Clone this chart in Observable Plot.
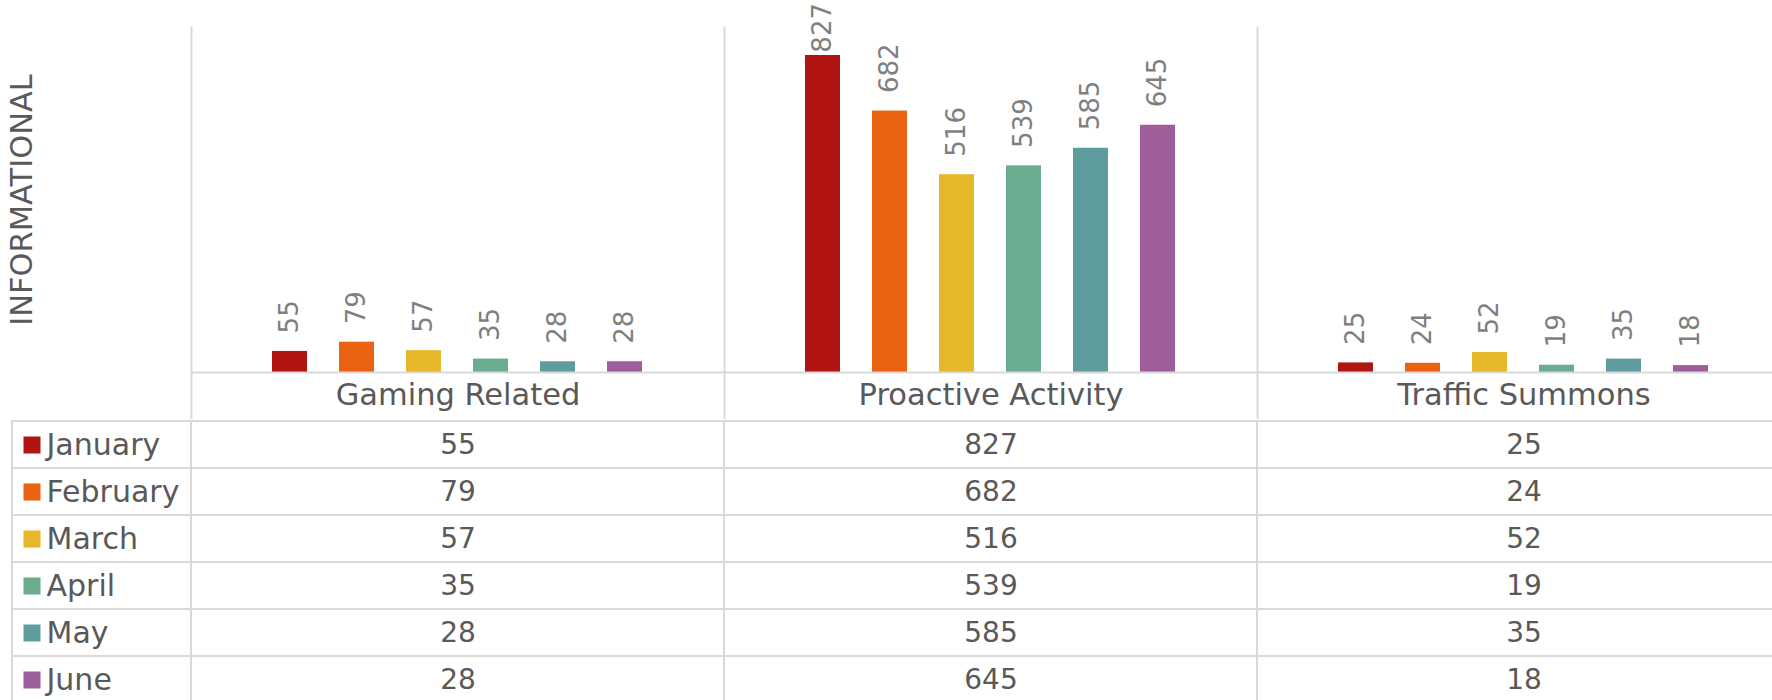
<!DOCTYPE html>
<html>
<head>
<meta charset="utf-8">
<script src="https://cdn.jsdelivr.net/npm/d3@7"></script>
<script src="https://cdn.jsdelivr.net/npm/@observablehq/plot@0.6"></script>
<style>
  html, body { margin: 0; padding: 0; background: #fff; overflow: hidden; }
  #chart { width: 1790px; font-family: "DejaVu Sans", sans-serif; }
  #chart svg { display: block; }
</style>
</head>
<body>
<div id="chart"></div>
<script>
// ---- data ----
const categories = ["Gaming Related", "Proactive Activity", "Traffic Summons"];
const months = ["January", "February", "March", "April", "May", "June"];
const gamingRelated = [55, 79, 57, 35, 28, 28];
const proactiveActivity = [827, 682, 516, 539, 585, 645];
const trafficSummons = [25, 24, 52, 19, 35, 18];
const monthColors = ["#B01513", "#EA6312", "#E6B729", "#6AAC90", "#5F9C9D", "#9E5E9B"];
const axisTitle = "INFORMATIONAL";
const yMax = 900;

const series = [gamingRelated, proactiveActivity, trafficSummons];
const rows = [];
categories.forEach((cat, ci) => months.forEach((month, mi) => rows.push({cat, month, value: series[ci][mi]})));

const gridColor = "#d9d9d9";
const textColor = "#595959";
const labelColor = "#7f7f7f";
const font = "'DejaVu Sans', sans-serif";
// Excel keeps outside-end labels inside the plot area: clamp label anchor
const labelCeil = yMax * 0.875;

const chartPlot = Plot.plot({
  width: 1790,
  height: 419,
  marginTop: 27,
  marginBottom: 0,
  marginLeft: 190,
  marginRight: 0,
  style: {fontFamily: font, background: "transparent"},
  fx: {domain: categories, padding: 0, axis: null},
  x: {domain: months, paddingInner: 0.475, paddingOuter: 1.16, axis: null},
  y: {domain: [0, yMax], range: [372, 27], axis: null},
  color: {domain: months, range: monthColors},
  marks: [
    Plot.barY(rows, {fx: "cat", x: "month", y: "value", fill: "month", inset: 0}),
    Plot.ruleY([0], {stroke: gridColor, strokeWidth: 2}),
    Plot.frame({anchor: "left", stroke: gridColor, strokeWidth: 2}),
    Plot.text(rows, {
      fx: "cat", x: "month", y: d => Math.min(d.value, labelCeil), text: d => String(d.value),
      rotate: -90, textAnchor: "start", lineAnchor: "middle", dy: -18, fontSize: 26, fill: labelColor
    }),
    Plot.text(categories, {
      fx: d => d, text: d => d, frameAnchor: "bottom", lineAnchor: "middle", textAnchor: "middle",
      dy: -24.5, fontSize: 30.5, fill: textColor
    }),
    Plot.text([axisTitle], {
      fx: () => categories[0], y: () => yMax / 2, text: d => d, frameAnchor: "left",
      textAnchor: "middle", lineAnchor: "middle", rotate: -90,
      dx: -169.5, fontSize: 30.5, fill: textColor
    })
  ]
});

const tablePlot = Plot.plot({
  width: 1790,
  height: 284,
  marginTop: 1,
  marginBottom: 0,
  marginLeft: 190,
  marginRight: 0,
  style: {fontFamily: font, background: "transparent"},
  x: {domain: categories, padding: 0, axis: null},
  y: {domain: months, padding: 0, axis: null},
  color: {domain: months, range: monthColors},
  marks: [
    Plot.cell(months, {y: d => d, fill: "none", stroke: gridColor, strokeWidth: 2, inset: 0, insetLeft: -178}),
    Plot.cell(rows, {x: "cat", y: "month", fill: "none", stroke: gridColor, strokeWidth: 2, inset: 0}),
    Plot.text(rows, {x: "cat", y: "month", text: d => String(d.value), fontSize: 28, fill: textColor}),
    Plot.dot(months, {y: d => d, frameAnchor: "left", dx: -158.5, symbol: "square", r: 9.6, fill: d => d}),
    Plot.text(months, {y: d => d, text: d => d, frameAnchor: "left", textAnchor: "start", lineAnchor: "middle", dx: -144, fontSize: 30, fill: textColor})
  ]
});

const root = document.getElementById("chart");
root.appendChild(chartPlot);
root.appendChild(tablePlot);
</script>
</body>
</html>
